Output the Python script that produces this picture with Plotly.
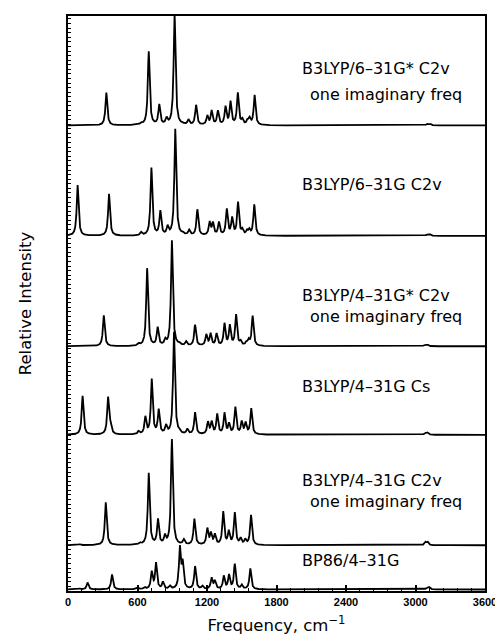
import numpy as np
import plotly.graph_objects as go

# ---- data (peak positions in cm-1, heights in plot units) ----
freq_631gs_c2v = [331, 631, 697, 788, 851, 920, 988, 1040, 1106, 1203, 1240, 1294, 1360, 1403, 1466, 1505, 1550, 1568, 1611, 3100, 3125]
int_631gs_c2v = [33, 2, 74, 20, 6, 112, 1, 5, 20, 9, 14, 14, 18, 23, 32, 5, 4, 6, 30, 1.5, 1.5]

freq_631g_c2v = [83, 354, 631, 720, 797, 860, 926, 990, 1046, 1117, 1223, 1251, 1303, 1371, 1417, 1468, 1505, 1545, 1565, 1608, 3100, 3125]
int_631g_c2v = [51, 42, 3, 68, 24, 8, 107, 2, 5, 26, 13, 12, 13, 26, 17, 33, 5, 4, 5, 31, 1.5, 1.5]

freq_431gs_c2v = [309, 610, 683, 774, 840, 897, 960, 1020, 1097, 1194, 1231, 1283, 1351, 1397, 1451, 1490, 1540, 1560, 1594, 3080, 3105]
int_431gs_c2v = [31, 2, 78, 18, 5, 106, 2, 4, 21, 11, 12, 12, 22, 20, 31, 4, 3, 5, 30, 1.5, 1.5]

freq_431g_cs = [126, 346, 368, 610, 668, 723, 783, 846, 915, 960, 1030, 1097, 1208, 1240, 1288, 1351, 1390, 1445, 1500, 1533, 1582, 3085, 3105]
int_431g_cs = [39, 37, 8, 3, 17, 55, 24, 8, 103, 2, 5, 22, 12, 12, 20, 21, 10, 27, 12, 11, 26, 2, 2]

freq_431g_c2v = [100, 326, 620, 697, 777, 837, 897, 1000, 1091, 1203, 1234, 1268, 1340, 1388, 1440, 1490, 1530, 1580, 3085, 3105]
int_431g_c2v = [1, 43, 2, 72, 25, 8, 106, 5, 26, 16, 11, 10, 33, 13, 32, 6, 5, 30, 3, 3]

freq_bp86 = [100, 169, 380, 600, 660, 723, 760, 820, 880, 966, 990, 1097, 1160, 1240, 1268, 1345, 1390, 1440, 1500, 1574, 3100, 3120]
int_bp86 = [1, 7, 15, 2, 2, 17, 26, 7, 3, 41, 25, 23, 3, 11, 8, 13, 14, 25, 4, 21, 2, 2]

offsets = [468, 357, 246, 157, 46, 1.5]

labels = [
    ["B3LYP/6–31G* C2v", "one imaginary freq"],
    ["B3LYP/6–31G C2v"],
    ["B3LYP/4–31G* C2v", "one imaginary freq"],
    ["B3LYP/4–31G Cs"],
    ["B3LYP/4–31G C2v", "one imaginary freq"],
    ["BP86/4–31G"],
]
label_y = [[525, 499], [409], [297, 276], [206], [111, 90], [31]]

x_ticks = [0, 600, 1200, 1800, 2400, 3000, 3600]

spectra = [
    (freq_631gs_c2v, int_631gs_c2v),
    (freq_631g_c2v, int_631g_c2v),
    (freq_431gs_c2v, int_431gs_c2v),
    (freq_431g_cs, int_431g_cs),
    (freq_431g_c2v, int_431g_c2v),
    (freq_bp86, int_bp86),
]

hwhm = 9.5
grid = np.linspace(0, 3600, 7201)

fig = go.Figure()
for (fr, it), off, lab in zip(spectra, offsets, labels):
    fr = np.asarray(fr, float)[:, None]
    it = np.asarray(it, float)[:, None]
    curve = (it * hwhm**2 / ((grid[None, :] - fr) ** 2 + hwhm**2)).sum(axis=0)
    fig.add_trace(go.Scatter(x=grid, y=curve + off, mode="lines",
                             line=dict(color="black", width=1.8),
                             name=lab[0], showlegend=False, hoverinfo="skip"))

annotations = []
for lab, ys in zip(labels, label_y):
    for i, (t, yy) in enumerate(zip(lab, ys)):
        annotations.append(dict(x=2001 if i == 0 else 2075, y=yy, xref="x", yref="y",
                                text=t, showarrow=False, xanchor="left", yanchor="middle",
                                font=dict(family="DejaVu Sans", size=16, color="black")))

fig.update_layout(
    width=495, height=630,
    margin=dict(l=60, r=13, t=6, b=46),
    paper_bgcolor="white", plot_bgcolor="white",
    annotations=annotations,
    xaxis=dict(range=[0, 3600], tickvals=x_ticks, ticktext=[str(v) for v in x_ticks],
               ticks="inside", ticklen=6, tickwidth=1.5, tickcolor="black",
               minor=dict(ticks="inside", ticklen=3, tickwidth=1, tickcolor="black",
                          tickmode="linear", tick0=0, dtick=120),
               showline=True, linecolor="black", linewidth=2, mirror=True,
               showgrid=False, zeroline=False,
               tickfont=dict(family="Liberation Sans", size=11, color="black", weight="bold"),
               title=dict(text="Frequency, cm<sup>−1</sup>", standoff=12,
                          font=dict(family="DejaVu Sans", size=16.5, color="black"))),
    yaxis=dict(range=[0, 578], showticklabels=False, tickvals=[], ticks="",
               minor=dict(ticks="inside", ticklen=3, tickwidth=1, tickcolor="black",
                          tickmode="linear", tick0=0, dtick=4.6),
               showline=True, linecolor="black", linewidth=2, mirror=True,
               showgrid=False, zeroline=False,
               title=dict(text="Relative Intensity", standoff=30,
                          font=dict(family="DejaVu Sans", size=16.5, color="black"))),
)

fig.write_html("out.html")
